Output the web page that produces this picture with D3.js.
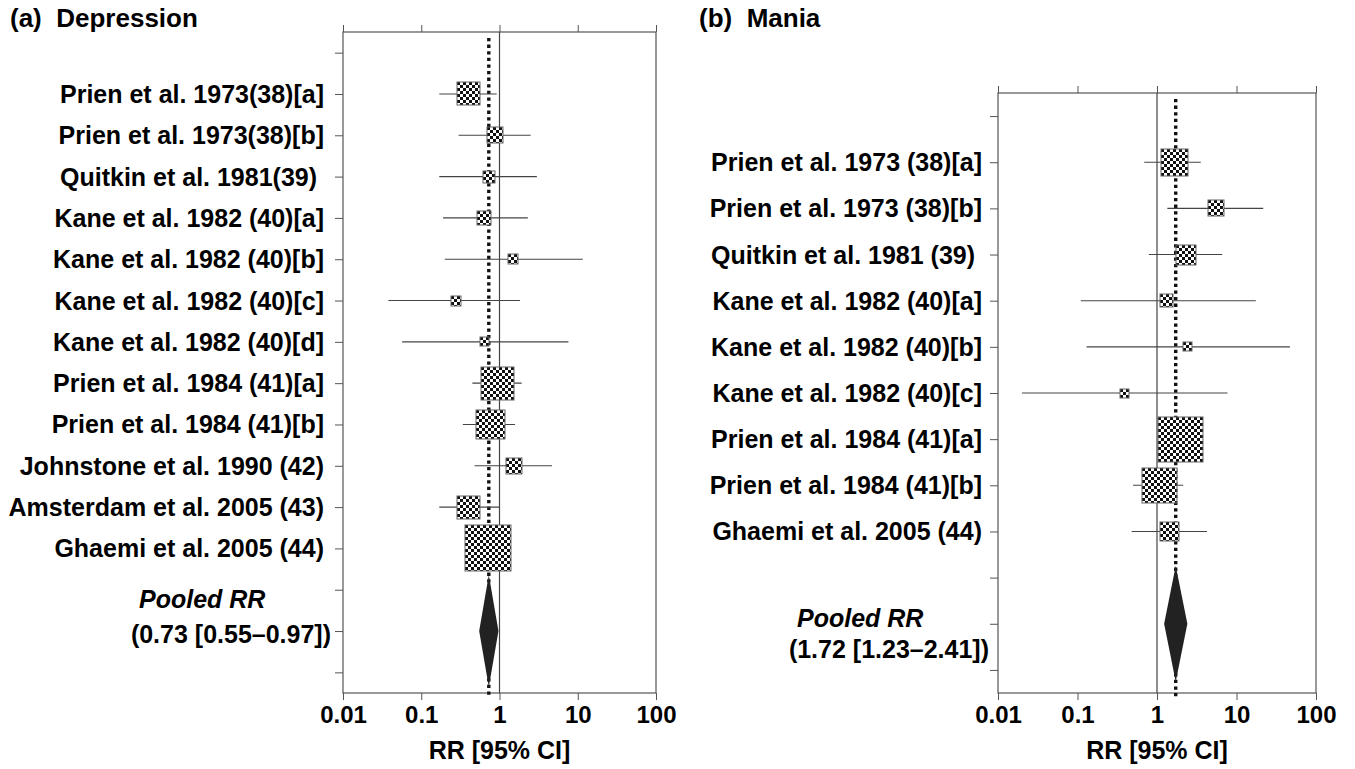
<!DOCTYPE html>
<html>
<head>
<meta charset="utf-8">
<script src="https://cdn.jsdelivr.net/npm/d3@7"></script>
<style>
  body { margin: 0; background: #fff; }
  svg { font-family: "Liberation Sans", Arial, Helvetica, sans-serif; }
  .panel-title, .study-label, .pooled-label, .axis-title { font-weight: bold; fill: #000; white-space: pre; }
  .panel-title { font-size: 26px; }
  .study-label { font-size: 25px; }
  .pooled-label { font-size: 25px; }
  .axis-title { font-size: 25px; }
  .axis text { font-size: 24px; font-weight: bold; fill: #000; font-family: "Liberation Sans", Arial, sans-serif; }
  .axis line { stroke: #555; }
  .axis path { display: none; }
</style>
</head>
<body>
<svg id="chart" width="1355" height="769"></svg>
<script>
// ---- data ----
const xTicks = [0.01, 0.1, 1, 10, 100];

// (a) Depression
const depLabels = [
  'Prien et al. 1973(38)[a]',
  'Prien et al. 1973(38)[b]',
  'Quitkin et al. 1981(39) ',
  'Kane et al. 1982 (40)[a]',
  'Kane et al. 1982 (40)[b]',
  'Kane et al. 1982 (40)[c]',
  'Kane et al. 1982 (40)[d]',
  'Prien et al. 1984 (41)[a]',
  'Prien et al. 1984 (41)[b]',
  'Johnstone et al. 1990 (42)',
  'Amsterdam et al. 2005 (43)',
  'Ghaemi et al. 2005 (44)'
];
const depRR     = [0.40, 0.87, 0.74, 0.64, 1.50, 0.28, 0.64, 0.94, 0.76, 1.52, 0.40, 0.71];
const depLow    = [0.17, 0.30, 0.17, 0.19, 0.20, 0.038, 0.057, 0.45, 0.34, 0.48, 0.17, 0.46];
const depHigh   = [0.92, 2.5, 3.0, 2.3, 11.6, 1.83, 7.6, 1.92, 1.58, 4.7, 0.99, 1.10];
const depWeight = [8.3, 4.2, 2.2, 3.4, 1.6, 1.6, 1.3, 17.7, 13.4, 4.2, 8.3, 33.9];
const depPooled = [0.73, 0.55, 0.97]; // RR, low, high

// (b) Mania
const manLabels = [
  'Prien et al. 1973 (38)[a]',
  'Prien et al. 1973 (38)[b]',
  'Quitkin et al. 1981 (39) ',
  'Kane et al. 1982 (40)[a]',
  'Kane et al. 1982 (40)[b]',
  'Kane et al. 1982 (40)[c]',
  'Prien et al. 1984 (41)[a]',
  'Prien et al. 1984 (41)[b]',
  'Ghaemi et al. 2005 (44)'
];
const manRR     = [1.67, 5.6, 2.3, 1.31, 2.45, 0.39, 2.0, 1.09, 1.42];
const manLow    = [0.69, 1.35, 0.79, 0.11, 0.13, 0.020, 1.2, 0.50, 0.48];
const manHigh   = [3.55, 21.7, 6.6, 17.5, 47, 7.7, 3.3, 2.14, 4.26];
const manWeight = [13.8, 4.7, 7.4, 3.1, 1.6, 1.5, 38.0, 23.1, 6.7];
const manPooled = [1.72, 1.23, 2.41];

class ForestPlot {

  constructor(_config, _data) {
    this.config = _config;
    this.data = _data;
    this.initVis();
  }

  initVis() {
    let vis = this;
    const c = vis.config;

    vis.svg = d3.select('#chart');
    vis.g = vis.svg.append('g');
    vis.defs = vis.svg.select('defs').empty() ? vis.svg.append('defs') : vis.svg.select('defs');

    // study rows 1..n, blank, pooled, blank
    vis.nRows = vis.data.labels.length + 4;
    vis.pooledRow = vis.data.labels.length + 2;

    vis.xScale = d3.scaleLog()
      .domain([0.01, 100])
      .range([c.left, c.right]);

    vis.yScale = d3.scalePoint()
      .domain(d3.range(vis.nRows))
      .range([c.top, c.bottom])
      .padding(0.5);

    vis.sizeScale = d3.scaleSqrt()
      .domain([0, d3.max(vis.data.weight)])
      .range([0, c.boxMax]);

    vis.renderVis();
  }

  renderVis() {
    let vis = this;
    const c = vis.config;
    const x = vis.xScale, y = vis.yScale;
    const d = vis.data;

    // Title
    vis.g.append('text')
      .attr('class', 'panel-title')
      .attr('x', c.titleX)
      .attr('y', 27)
      .text(c.title);

    // Plot frame
    vis.g.append('rect')
      .attr('x', c.left)
      .attr('y', c.top)
      .attr('width', c.right - c.left)
      .attr('height', c.bottom - c.top)
      .attr('fill', 'none')
      .attr('stroke', '#555')
      .attr('stroke-width', 1.2);

    // Axes
    vis.g.append('g')
      .attr('class', 'axis')
      .attr('transform', `translate(0,${c.top})`)
      .call(d3.axisTop(x).tickValues(xTicks).tickSize(7).tickFormat(''));

    vis.g.append('g')
      .attr('class', 'axis')
      .attr('transform', `translate(0,${c.bottom})`)
      .call(d3.axisBottom(x).tickValues(xTicks).tickSize(7).tickPadding(6).tickFormat(v => String(v)));

    vis.g.append('g')
      .attr('class', 'axis')
      .attr('transform', `translate(${c.left},0)`)
      .call(d3.axisLeft(y).tickSize(8).tickFormat(''));

    vis.g.append('text')
      .attr('class', 'axis-title')
      .attr('x', x(1))
      .attr('y', 759)
      .attr('text-anchor', 'middle')
      .text('RR [95% CI]');

    // Line of no effect
    vis.g.append('line')
      .attr('x1', x(1)).attr('x2', x(1))
      .attr('y1', c.top).attr('y2', c.bottom)
      .attr('stroke', '#444')
      .attr('stroke-width', 1.2);

    // Dotted pooled line
    vis.g.append('line')
      .attr('x1', x(d.pooled[0])).attr('x2', x(d.pooled[0]))
      .attr('y1', c.top + 6).attr('y2', c.bottom + 4)
      .attr('stroke', '#111')
      .attr('stroke-width', 3.4)
      .attr('stroke-dasharray', '3.3,3.3');

    const rows = d.labels.map((label, i) => ({
      label, row: i + 1, rr: d.rr[i], low: d.low[i], high: d.high[i], w: d.weight[i]
    }));

    // Study labels
    vis.g.selectAll('.study-label')
      .data(rows)
      .join('text')
      .attr('class', 'study-label')
      .attr('x', c.left - c.labelGap)
      .attr('y', r => y(r.row))
      .attr('dy', '0.36em')
      .attr('text-anchor', 'end')
      .text(r => r.label);

    // Confidence intervals
    vis.g.selectAll('.ci')
      .data(rows)
      .join('line')
      .attr('class', 'ci')
      .attr('x1', r => x(r.low))
      .attr('x2', r => x(r.high))
      .attr('y1', r => y(r.row))
      .attr('y2', r => y(r.row))
      .attr('stroke', '#444')
      .attr('stroke-width', 1.1);

    // box geometry, snapped to whole pixels so the checker stays crisp
    rows.forEach(r => {
      r.s = Math.round(vis.sizeScale(r.w));
      r.bx = Math.round(x(r.rr) - r.s / 2);
      r.by = Math.round(y(r.row) - r.s / 2);
    });

    // Checkered patterns, one per box so each starts at its corner
    const cell = 3;
    rows.forEach((r, i) => {
      const pat = vis.defs.append('pattern')
        .attr('id', `chk-${c.key}-${i}`)
        .attr('patternUnits', 'userSpaceOnUse')
        .attr('x', r.bx)
        .attr('y', r.by)
        .attr('width', cell * 2)
        .attr('height', cell * 2);
      pat.append('rect').attr('width', cell * 2).attr('height', cell * 2).attr('fill', '#fff');
      pat.append('rect').attr('width', cell).attr('height', cell).attr('fill', '#111');
      pat.append('rect').attr('x', cell).attr('y', cell).attr('width', cell).attr('height', cell).attr('fill', '#111');
    });

    // Boxes sized by weight
    vis.g.selectAll('.box')
      .data(rows)
      .join('rect')
      .attr('class', 'box')
      .attr('x', r => r.bx)
      .attr('y', r => r.by)
      .attr('width', r => r.s)
      .attr('height', r => r.s)
      .attr('fill', (r, i) => `url(#chk-${c.key}-${i})`)
      .attr('stroke', '#666')
      .attr('stroke-width', 1);

    // Pooled diamond
    const yp = y(vis.pooledRow);
    const h = c.diamondHalf;
    vis.g.append('polygon')
      .attr('points', [
        [x(d.pooled[1]), yp],
        [x(d.pooled[0]), yp - h],
        [x(d.pooled[2]), yp],
        [x(d.pooled[0]), yp + h]
      ].map(p => p.join(',')).join(' '))
      .attr('fill', '#222');

    // Pooled label
    const fmt = d3.format('.2f');
    vis.g.append('text')
      .attr('class', 'pooled-label')
      .attr('x', c.pooledX)
      .attr('y', yp + c.pooledDy[0])
      .style('font-style', 'italic')
      .text('Pooled RR');

    vis.g.append('text')
      .attr('class', 'pooled-label')
      .attr('x', c.left - c.labelGap + 7)
      .attr('y', yp + c.pooledDy[1])
      .attr('text-anchor', 'end')
      .text(`(${fmt(d.pooled[0])} [${fmt(d.pooled[1])}–${fmt(d.pooled[2])}])`);
  }
}

new ForestPlot({
  key: 'a', title: '(a)  Depression', titleX: 10,
  left: 343, right: 656, top: 32, bottom: 693,
  labelGap: 19, boxMax: 45.7, diamondHalf: 56,
  pooledX: 139, pooledDy: [-23, 12]
}, {
  labels: depLabels, rr: depRR, low: depLow, high: depHigh, weight: depWeight, pooled: depPooled
});

new ForestPlot({
  key: 'b', title: '(b)  Mania', titleX: 699,
  left: 998, right: 1316, top: 93, bottom: 693,
  labelGap: 16, boxMax: 45.3, diamondHalf: 58,
  pooledX: 797, pooledDy: [3, 34]
}, {
  labels: manLabels, rr: manRR, low: manLow, high: manHigh, weight: manWeight, pooled: manPooled
});
</script>
</body>
</html>
